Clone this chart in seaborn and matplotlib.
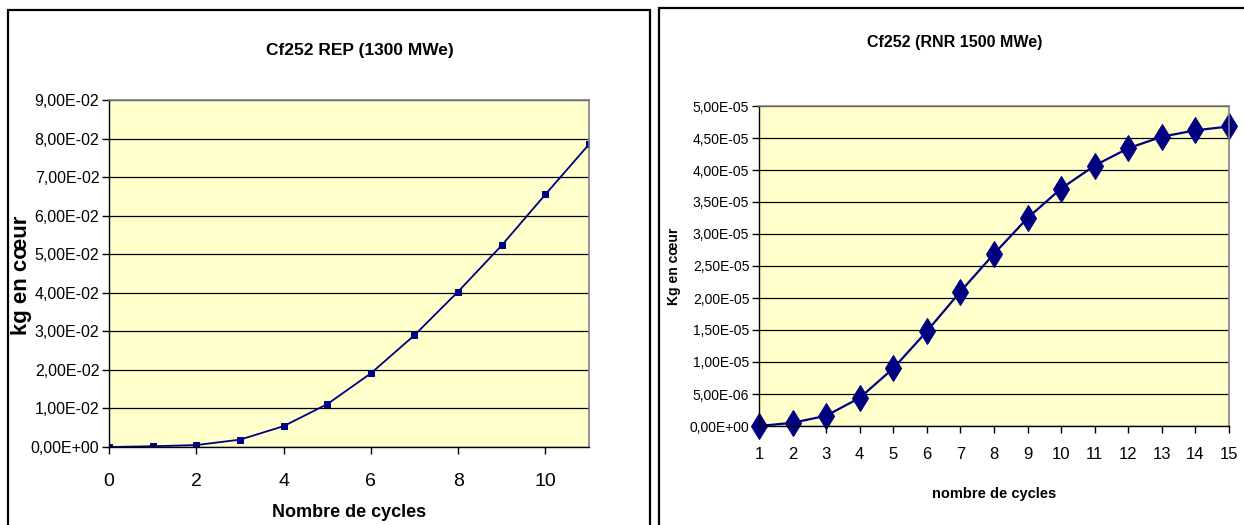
import matplotlib
matplotlib.use("Agg")
import matplotlib.pyplot as plt
from matplotlib.patches import Rectangle
from matplotlib.ticker import FuncFormatter, MultipleLocator
import seaborn as sns
import pandas as pd

# Cf252 inventory in the core, PWR (REP 1300 MWe)
rep_cycles = [0, 1, 2, 3, 4, 5, 6, 7, 8, 9, 10, 11]
rep_kg = [0.0, 0.0002, 0.0005, 0.0019, 0.0054, 0.0111, 0.0191,
          0.0290, 0.0403, 0.0523, 0.0655, 0.0785]

# Cf252 inventory in the core, fast reactor (RNR 1500 MWe)
rnr_cycles = list(range(1, 16))
rnr_kg = [0.0, 5.0e-7, 1.6e-6, 4.4e-6, 9.0e-6, 1.48e-5, 2.10e-5, 2.69e-5,
          3.25e-5, 3.71e-5, 4.07e-5, 4.34e-5, 4.52e-5, 4.62e-5, 4.68e-5]

rep_title = "Cf252 REP (1300 MWe)"
rnr_title = "Cf252 (RNR 1500 MWe)"
rep_xlabel = "Nombre de cycles"
rnr_xlabel = "nombre de cycles"
rep_ylabel = "kg en cœur"
rnr_ylabel = "Kg en cœur"

sns.set_theme(style="white")
plt.rcParams["font.family"] = ["Liberation Sans", "DejaVu Sans"]
plt.rcParams.update({"text.color": "black", "axes.labelcolor": "black",
                     "xtick.color": "black", "ytick.color": "black"})

W, H = 1244, 525
fig = plt.figure(figsize=(W / 100, H / 100), dpi=100)
fig.patch.set_facecolor("white")

def fx(px):
    return px / W

def fy(py):
    return 1 - py / H

# chart frames
fig.patches.append(Rectangle((fx(8), fy(530)), fx(650 - 8), fy(10) - fy(530),
                             transform=fig.transFigure, fill=False,
                             edgecolor="black", linewidth=1.6))
fig.patches.append(Rectangle((fx(659), fy(530)), fx(1260 - 659), fy(8) - fy(530),
                             transform=fig.transFigure, fill=False,
                             edgecolor="black", linewidth=1.6))

navy = "#000080"
plot_bg = "#FFFFCC"

def sci_comma(v, _pos):
    s = f"{v:.2E}"
    mant, exp = s.split("E")
    sign = exp[0]
    e = int(exp[1:])
    return f"{mant.replace('.', ',')}E{sign}{e:02d}"

def style_axes(ax):
    ax.set_facecolor(plot_bg)
    for side in ("left", "bottom"):
        ax.spines[side].set_color("black")
        ax.spines[side].set_linewidth(1.0)
    for side in ("top", "right"):
        ax.spines[side].set_color("#808080")
        ax.spines[side].set_linewidth(1.2)
    ax.yaxis.grid(True, color="black", linewidth=0.9)
    ax.xaxis.grid(False)
    ax.set_axisbelow(True)
    ax.tick_params(axis="both", direction="out", length=5, width=1,
                   color="black", left=True, bottom=True)
    ax.yaxis.set_major_formatter(FuncFormatter(sci_comma))

# ---- left chart: REP ----
ax1 = fig.add_axes([fx(109), fy(447), fx(589 - 109), fy(100) - fy(447)])
df_rep = pd.DataFrame({"cycles": rep_cycles, "kg": rep_kg})
sns.lineplot(data=df_rep, x="cycles", y="kg", ax=ax1, color=navy, linewidth=1.3,
             marker="s", markersize=4, markeredgecolor=navy)
ax1.set_xlim(0, 11)
ax1.set_ylim(0, 0.09)
ax1.xaxis.set_major_locator(MultipleLocator(2))
ax1.yaxis.set_major_locator(MultipleLocator(0.01))
style_axes(ax1)
ax1.tick_params(axis="x", labelsize=14, pad=14)
ax1.tick_params(axis="y", labelsize=11.5, pad=2)
ax1.set_xlabel(rep_xlabel, fontsize=13, fontweight="bold", labelpad=10)
ax1.set_ylabel("")
fig.text(fx(22), fy(275), rep_ylabel, rotation=90, ha="center", va="center",
         fontsize=16, fontweight="bold")
fig.text(fx(360), fy(50), rep_title, ha="center", va="center",
         fontsize=12.5, fontweight="bold")

# ---- right chart: RNR ----
ax2 = fig.add_axes([fx(759), fy(426), fx(1229 - 759), fy(106) - fy(426)])
df_rnr = pd.DataFrame({"cycles": rnr_cycles, "kg": rnr_kg})
sns.lineplot(data=df_rnr, x="cycles", y="kg", ax=ax2, color=navy, linewidth=1.6,
             marker="d", markersize=13, markeredgecolor=navy)
for ln in ax2.lines:
    ln.set_clip_on(False)
ax2.set_xlim(1, 15)
ax2.set_ylim(0, 5e-5)
ax2.xaxis.set_major_locator(MultipleLocator(1))
ax2.yaxis.set_major_locator(MultipleLocator(5e-6))
ax2.yaxis.get_offset_text().set_visible(False)
style_axes(ax2)
ax2.tick_params(axis="x", labelsize=12, pad=10)
ax2.tick_params(axis="y", labelsize=10, pad=2)
ax2.set_xlabel(rnr_xlabel, fontsize=10.5, fontweight="bold", labelpad=18)
ax2.set_ylabel(rnr_ylabel, fontsize=10, fontweight="bold", labelpad=6)
fig.text(fx(955), fy(43), rnr_title, ha="center", va="center",
         fontsize=11.5, fontweight="bold")

fig.savefig("out.png", dpi=100, facecolor="white")
